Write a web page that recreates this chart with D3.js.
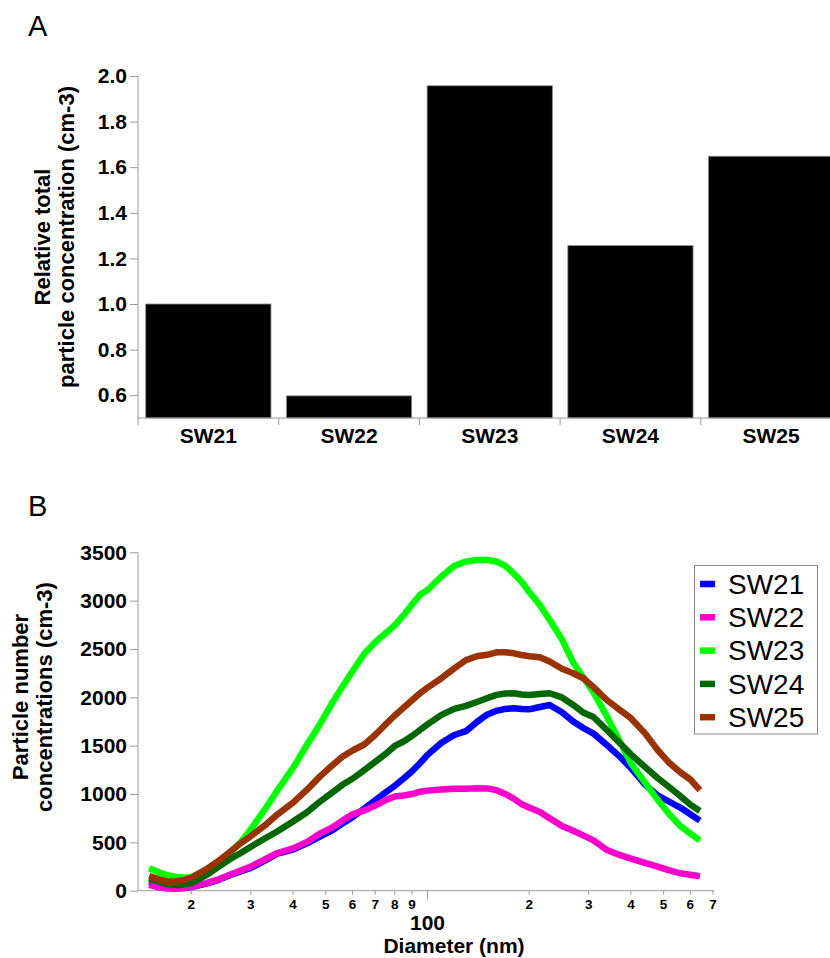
<!DOCTYPE html>
<html>
<head>
<meta charset="utf-8">
<script src="https://cdn.jsdelivr.net/npm/d3@7"></script>
<style>
  html, body { margin: 0; padding: 0; background: #fff; }
  svg { display: block; font-family: "Liberation Sans", Arial, sans-serif; }
</style>
</head>
<body>
<svg id="chart" width="830" height="958"></svg>
<script>
// ---------- Panel A data ----------
const categories = ["SW21", "SW22", "SW23", "SW24", "SW25"];
const relConcentration = [1.0, 0.597, 1.957, 1.256, 1.648];
const yTicksA = [0.6, 0.8, 1.0, 1.2, 1.4, 1.6, 1.8, 2.0];

// ---------- Panel B data ----------
const diameters = [15, 16, 17, 18, 19, 20, 22, 24, 26, 28, 30, 33, 36, 40, 44, 48, 52, 56, 60, 65,
  70, 75, 80, 85, 90, 95, 100, 110, 120, 130, 140, 150, 160, 170, 180, 190, 200, 215, 230, 250,
  270, 290, 310, 340, 370, 400, 440, 480, 520, 560, 600, 640];
const sw21 = [90, 60, 40, 30, 30, 38, 70, 110, 160, 200, 235, 310, 385, 425, 490, 560, 620, 695, 760, 850,
  935, 1015, 1085, 1160, 1235, 1318, 1405, 1530, 1610, 1650, 1745, 1820, 1860, 1880, 1887, 1880, 1876, 1900, 1920, 1845,
  1750, 1680, 1625, 1505, 1390, 1270, 1100, 985, 920, 860, 790, 725];
const sw22 = [60, 35, 22, 20, 25, 40, 75, 115, 165, 210, 250, 325, 390, 438, 505, 590, 650, 725, 790, 830,
  880, 935, 975, 985, 1000, 1024, 1035, 1046, 1055, 1055, 1060, 1058, 1040, 1000, 952, 895, 860, 815, 750, 670,
  620, 570, 520, 420, 370, 332, 288, 248, 210, 180, 165, 150];
const sw23 = [232, 190, 160, 142, 135, 140, 205, 300, 395, 500, 635, 840, 1040, 1270, 1510, 1720, 1930, 2110, 2270, 2450,
  2570, 2660, 2745, 2850, 2960, 3060, 3110, 3250, 3360, 3405, 3420, 3420, 3405, 3360, 3280, 3195, 3090, 2956, 2800, 2600,
  2360, 2200, 2050, 1800, 1550, 1320, 1120, 940, 790, 670, 590, 520];
const sw24 = [125, 95, 68, 58, 65, 78, 155, 245, 325, 390, 455, 540, 615, 715, 812, 920, 1010, 1095, 1158, 1248,
  1332, 1412, 1497, 1543, 1600, 1662, 1720, 1818, 1880, 1912, 1952, 1991, 2025, 2040, 2042, 2030, 2025, 2035, 2042, 2000,
  1921, 1840, 1797, 1660, 1530, 1410, 1280, 1165, 1070, 980, 890, 825];
const sw25 = [150, 120, 95, 95, 110, 135, 215, 305, 400, 490, 565, 675, 790, 910, 1045, 1180, 1290, 1385, 1450, 1512,
  1610, 1717, 1812, 1893, 1970, 2042, 2100, 2198, 2300, 2385, 2425, 2440, 2465, 2467, 2455, 2438, 2425, 2414, 2370, 2295,
  2249, 2195, 2105, 1970, 1872, 1784, 1630, 1455, 1320, 1225, 1150, 1040];
const seriesNames = ["SW21", "SW22", "SW23", "SW24", "SW25"];
const seriesValues = [sw21, sw22, sw23, sw24, sw25];
const seriesColors = ["#0000ff", "#ff00cc", "#00ff00", "#006600", "#993300"];
const yTicksB = [0, 500, 1000, 1500, 2000, 2500, 3000, 3500];
const xTicksB = [20, 30, 40, 50, 60, 70, 80, 90, 100, 200, 300, 400, 500, 600, 700];
const xTickLabelsB = ["2", "3", "4", "5", "6", "7", "8", "9", "100", "2", "3", "4", "5", "6", "7"];

const svg = d3.select("#chart");
const axisColor = "#999";

// ================= Panel A =================
svg.append("text").attr("x", 28).attr("y", 36).attr("font-size", 29).text("A");

const xA = d3.scaleBand().domain(categories).range([138, 841.5]).paddingInner(0.11).paddingOuter(0.055);
const yA = d3.scaleLinear().domain([0.5, 2.0]).range([418, 76]);

const gA = svg.append("g");
gA.selectAll("rect.bar").data(categories).join("rect")
  .attr("class", "bar")
  .attr("x", d => xA(d))
  .attr("width", xA.bandwidth())
  .attr("y", (d, i) => yA(relConcentration[i]))
  .attr("height", (d, i) => yA(0.5) - yA(relConcentration[i]))
  .attr("fill", "#000")
  .attr("stroke", "#888")
  .attr("stroke-width", 0.8);

// y axis A
const yAxisA = d3.axisLeft(yA).tickValues(yTicksA).tickFormat(d3.format(".1f")).tickSize(8).tickPadding(3);
const gyA = gA.append("g").attr("transform", "translate(138,0)").call(yAxisA);
gyA.select(".domain").attr("stroke", axisColor).attr("d", `M-0,${yA(2.0)}V${yA(0.5)}`);
gyA.selectAll(".tick line").attr("stroke", axisColor);
gyA.selectAll(".tick text").attr("font-size", 21).attr("font-weight", "bold")
  .attr("fill", "#000").attr("font-family", "Liberation Sans, Arial, sans-serif");

// x axis A
const gxA = gA.append("g").attr("transform", "translate(0,418)");
gxA.append("line").attr("x1", 138).attr("x2", 841.5).attr("y1", 0).attr("y2", 0).attr("stroke", axisColor);
const boundaries = categories.map(c => xA(c) - xA.step() * xA.paddingInner() / 2);
gxA.selectAll("line.sep").data(boundaries).join("line")
  .attr("class", "sep")
  .attr("x1", d => Math.max(138, d)).attr("x2", d => Math.max(138, d))
  .attr("y1", 0).attr("y2", 7).attr("stroke", axisColor);
gxA.selectAll("text.cat").data(categories).join("text")
  .attr("class", "cat")
  .attr("x", d => xA(d) + xA.bandwidth() / 2)
  .attr("y", 25)
  .attr("text-anchor", "middle")
  .attr("font-size", 21).attr("font-weight", "bold")
  .text(d => d);

// y label A
const labA = svg.append("text").attr("transform", "translate(50,237) rotate(-90)")
  .attr("text-anchor", "middle").attr("font-size", 22).attr("font-weight", "bold");
labA.append("tspan").attr("x", 0).attr("y", 0).text("Relative total");
labA.append("tspan").attr("x", 0).attr("y", 24).text("particle concentration (cm-3)");

// ================= Panel B =================
svg.append("text").attr("x", 28).attr("y", 516).attr("font-size", 29).text("B");

const xB = d3.scaleLog().domain([14, 700]).range([139, 713]);
const yB = d3.scaleLinear().domain([0, 3500]).range([890.7, 552.3]);

const gB = svg.append("g");

// y axis B
const yAxisB = d3.axisLeft(yB).tickValues(yTicksB).tickFormat(d3.format("d")).tickSize(8).tickPadding(3);
const gyB = gB.append("g").attr("transform", "translate(138,0)").call(yAxisB);
gyB.select(".domain").attr("stroke", axisColor).attr("d", `M-0,${yB(3500)}V${yB(0)}`);
gyB.selectAll(".tick line").attr("stroke", axisColor);
gyB.selectAll(".tick text").attr("font-size", 21).attr("font-weight", "bold")
  .attr("fill", "#000").attr("font-family", "Liberation Sans, Arial, sans-serif");

// x axis B
const gxB = gB.append("g").attr("transform", "translate(0,890.7)");
gxB.append("line").attr("x1", 138).attr("x2", 714).attr("stroke", axisColor);
gxB.selectAll("line.tk").data(xTicksB).join("line")
  .attr("class", "tk")
  .attr("x1", d => xB(d)).attr("x2", d => xB(d))
  .attr("y1", 0).attr("y2", d => d === 100 ? 9 : 4)
  .attr("stroke", axisColor);
gxB.selectAll("text.tl").data(xTicksB).join("text")
  .attr("class", "tl")
  .attr("x", d => xB(d))
  .attr("y", d => d === 100 ? 39.5 : 18.5)
  .attr("text-anchor", "middle")
  .attr("font-weight", "bold")
  .attr("font-size", d => d === 100 ? 21 : 13.5)
  .text((d, i) => xTickLabelsB[i]);
gxB.append("text").attr("x", 454).attr("y", 62.5).attr("text-anchor", "middle")
  .attr("font-size", 21).attr("font-weight", "bold").text("Diameter (nm)");

// y label B
const labB = svg.append("text").attr("transform", "translate(28,697) rotate(-90)")
  .attr("text-anchor", "middle").attr("font-size", 22).attr("font-weight", "bold");
labB.append("tspan").attr("x", 0).attr("y", 0).text("Particle number");
labB.append("tspan").attr("x", 0).attr("y", 24).text("concentrations (cm-3)");

// lines
const line = d3.line().x(d => xB(d[0])).y(d => yB(d[1]));
seriesValues.forEach((vals, i) => {
  gB.append("path")
    .datum(diameters.map((dm, j) => [dm, vals[j]]))
    .attr("d", line)
    .attr("fill", "none")
    .attr("stroke", seriesColors[i])
    .attr("stroke-width", 6.5)
    .attr("stroke-linejoin", "round");
});

// legend
const leg = svg.append("g");
leg.append("rect").attr("x", 694.5).attr("y", 565.5).attr("width", 123).attr("height", 168.5)
  .attr("fill", "#fff").attr("stroke", "#888").attr("stroke-width", 1);
seriesNames.forEach((name, i) => {
  const yy = 584 + i * 33.3;
  leg.append("line").attr("x1", 700).attr("x2", 715).attr("y1", yy).attr("y2", yy)
    .attr("stroke", seriesColors[i]).attr("stroke-width", 6.5);
  leg.append("text").attr("x", 728).attr("y", yy + 9.8).attr("font-size", 28).text(name);
});
</script>
</body>
</html>
